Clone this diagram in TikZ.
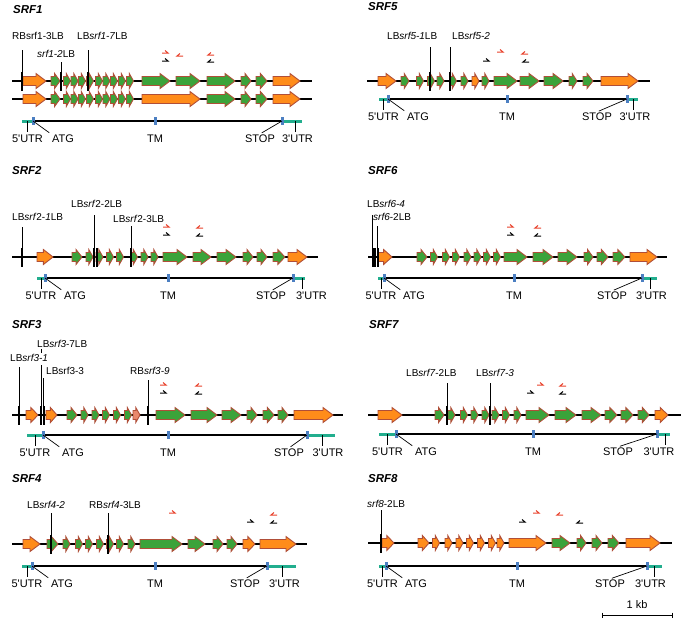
\documentclass[tikz,border=0pt]{standalone}
\usepackage{fontspec}
\setmainfont{Liberation Sans}
\usepackage{tikz}
\tikzset{x=1pt,y=-1pt}
\definecolor{eo}{HTML}{FF8C1A}
\definecolor{eg}{HTML}{3BA33A}
\definecolor{es}{HTML}{E9886C}
\definecolor{exedge}{HTML}{B04E38}
\definecolor{utrc}{HTML}{22AE8E}
\definecolor{mk}{HTML}{4C7FC2}
\definecolor{prr}{HTML}{E8402A}
\tikzset{
  exon/.style={draw=exedge, line width=0.9pt},
  gline/.style={line width=1.8pt},
  tthin/.style={line width=1pt},
  tthick/.style={line width=2pt},
  utr/.style={draw=utrc, line width=3pt},
  cds/.style={line width=2pt},
  tick/.style={line width=0.7pt, shorten >=2pt},
  primer/.style={line width=1pt},
  lbl/.style={font=\fontsize{11}{13}\selectfont, inner sep=1pt},
  tag/.style={font=\fontsize{10}{12}\selectfont, inner sep=0pt, anchor=base west},
  gname/.style={font=\fontsize{11.5}{14}\selectfont\bfseries\itshape, inner sep=0pt, anchor=base west},
}
% one exon: from, to, y, colour
\newcommand{\exon}[4]{%
  \pgfmathsetmacro\headlen{min(10,0.6*((#2)-(#1)))}
  \draw[exon,fill=#4] (#1,#3-4.5) -- (#2-\headlen,#3-4.5) -- (#2-\headlen,#3-7.5) -- (#2,#3)
    -- (#2-\headlen,#3+7.5) -- (#2-\headlen,#3+4.5) -- (#1,#3+4.5) -- cycle;}
% gene line: y, left, right, exons
\newcommand{\gene}[4]{%
  \draw[gline] (#2,#1) -- (#3,#1);
  \foreach \xa/\xb/\col in {#4} {\exon{\xa}{\xb}{#1}{\col}}}
% small LRR exons: y, colour, centres
\newcommand{\lrr}[3]{\foreach \xc in {#3} {\exon{\xc-3.5}{\xc+3.5}{#1}{#2}}}
% T-DNA insertion: x, top, gene y
\newcommand{\tdna}[3]{%
  \draw[tthin] (#1,#2) -- (#1,#3-9);
  \draw[tthick] (#1,#3-9) -- (#1,#3+10);}
\newcommand{\primF}[3]{\draw[primer,#3] (#1,#2) -- ++(6,0) -- ++(-3,-2.5);}
\newcommand{\primR}[3]{\draw[primer,#3] (#1+6,#2) -- ++(-6,0) -- ++(3,-2.5);}
% y, utr left, ATG, TM, STOP, utr right, 3'UTR label, 3'UTR tick, STOP label
\newcommand{\genemodel}[9]{%
  \draw[utr] (#2,#1) -- (#3,#1) (#5,#1) -- (#6,#1);
  \draw[cds] (#3,#1) -- (#5,#1);
  \foreach \m in {#3,#4,#5} {\fill[mk] (\m-1.5,#1-3.8) rectangle (\m+1.5,#1+3.8);}
  \node[lbl] (u5) at ({(#2+#3)/2},#1+18) {5\textquotesingle UTR};
  \node[lbl] (atg) at (#3+30,#1+18) {ATG};
  \node[lbl] (tm) at (#4,#1+18) {TM};
  \node[lbl] (stop) at (#9,#1+18) {STOP};
  \node[lbl] (u3) at (#7,#1+18) {3\textquotesingle UTR};
  \draw[tick] ({(#2+#3)/2},#1) -- (u5.north);
  \draw[tick] (#3,#1) -- (atg.north west);
  \draw[tick] (#5,#1) -- (stop.north);
  \draw[tick] (#8,#1) -- (u3.north -| #8,0);}

\begin{document}
\begin{tikzpicture}
\useasboundingbox (0,0) rectangle (685,619);

% SRF1
\node[gname] (t1) at (13,13) {SRF1};
\node[tag] (a1) at (12,39) {RBsrf1-3LB};
\node[tag] (b1) at (37,57) {\textit{srf1-2}LB};
\node[tag] (c1) at (77,39) {LB\textit{srf1-7}LB};
\gene{81}{12}{312}{23/46/eo,51/60/eg,142/170/eg,176/200/eg,207/235/eg,241/251/eg,256/267/eg,273/300/eo}
\lrr{81}{eg}{67,74.5,82,90,99,106.5,114,122,130}
\gene{99}{12}{312}{23/46/eo,51/60/eg,142/200/eo,207/235/eg,241/251/eg,256/267/eg,273/300/eo}
\lrr{99}{eg}{67,74.5,82,90,99,106.5,114,122,130}
\foreach \x/\t in {22/50,61/62,88/50} {\tdna{\x}{\t}{81}}
\primF{162}{53}{prr} \primF{162}{61}{black} \primR{177}{56}{prr}
\primR{208}{55}{prr} \primR{208}{62}{black}
\genemodel{121}{22}{33}{155}{282}{302}{297.5}{295}{260}

% SRF5
\node[gname] (t5) at (368,10) {SRF5};
\node[tag] (a5) at (387,39) {LB\textit{srf5-1}LB};
\node[tag] (b5) at (452,39) {LB\textit{srf5-2}};
\gene{81}{367}{650}{378/396/eo,401/409/eg,494/517/eg,520/539/eg,544/563/eg,569/577/eg,583/593/eg,601/638/eo}
\lrr{81}{eg}{420,431,440.5,453,464.5,485.5}
\lrr{81}{eo}{475.5}
\foreach \x/\t in {430/47,450/47} {\tdna{\x}{\t}{81}}
\primF{483}{61}{black} \primF{497}{52}{prr} \primR{522}{54}{prr} \primR{523}{62}{black}
\genemodel{99}{379}{388}{507}{627}{638}{635}{633}{597}

% SRF2
\node[gname] (t2) at (12,174) {SRF2};
\node[tag] (a2) at (12,220) {LB\textit{srf}2-\textit{1}LB};
\node[tag] (b2) at (71,207) {LB\textit{srf}2-2LB};
\node[tag] (c2) at (113,222) {LB\textit{srf}2-3LB};
\gene{257}{12}{318}{37/53/eo,72/82/eg,163/187/eg,193/211/eg,217/236/eg,243/253/eg,257/267/eg,273/285/eg,288/307/eo}
\lrr{257}{eg}{89.5,99.5,110,120,134,144.5,154.5}
\foreach \x/\t in {22/227,94/215,97/248,131/226} {\tdna{\x}{\t}{257}}
\primF{163}{227}{prr} \primF{163}{235}{black} \primR{197}{228}{prr} \primR{197}{236}{black}
\genemodel{278}{37}{45}{168}{293}{305}{311.5}{302}{271}

% SRF6
\node[gname] (t6) at (368,174) {SRF6};
\node[tag] (a6) at (367,207) {LB\textit{srf6-4}};
\node[tag] (b6) at (373,220) {\textit{srf6}-2LB};
\gene{257}{368}{667}{378/392/eo,417/427/eg,504/527/eg,533/553/eg,558/577/eg,584/593/eg,597/608/eg,613/625/eg,630/657/eo}
\lrr{257}{eg}{434,446,456,467.5,477.5,487,497}
\foreach \x/\t in {372.5/215,375/248,377.5/226} {\tdna{\x}{\t}{257}}
\primF{507}{227}{prr} \primF{507}{235}{black} \primR{535}{228}{prr} \primR{535}{236}{black}
\genemodel{278}{378}{384}{514}{642}{657}{651.5}{650}{612}

% SRF3
\node[gname] (t3) at (12,328) {SRF3};
\node[tag] (a3) at (37,347) {LB\textit{srf3}-7LB};
\node[tag] (b3) at (10,361) {LB\textit{srf3-1}};
\node[tag] (c3) at (46,374) {LBsrf3-3};
\node[tag] (d3) at (130,374) {RB\textit{srf3-9}};
\gene{415}{12}{343}{26/38/eo,46/57/eo,67/77/eg,156/185/eg,191/217/eg,222/241/eg,247/257/eg,263/274/eg,278/288/eg,294/333/eo}
\lrr{415}{eg}{84.5,95.5,106,117,128}
\lrr{415}{es}{136.5}
\draw[tthin] (41,349) -- (41,353);
\foreach \x/\t in {19/367,41/365,43.5/378,148/380} {\tdna{\x}{\t}{415}}
\primF{160}{385}{prr} \primF{160}{393}{black} \primR{196}{386}{prr} \primR{196}{394}{black}
\genemodel{435}{27}{43}{168}{307}{335}{328}{322}{289}

% SRF7
\node[gname] (t7) at (369,328) {SRF7};
\node[tag] (a7) at (406,376) {LB\textit{srf7}-2LB};
\node[tag] (b7) at (476,376) {LB\textit{srf7-3}};
\gene{415}{368}{681}{378/402/eo,435/444/eg,526/549/eg,555/576/eg,582/601/eg,605/617/eg,621/633/eg,638/649/eg,655/668/eo}
\lrr{415}{eg}{451.5,464,474.5,485.5,495.5,506,517.5}
\foreach \x in {447,490} {\tdna{\x}{383}{415}}
\primF{527}{393}{black} \primF{537}{385}{prr} \primR{560}{386}{prr} \primR{560}{394}{black}
\genemodel{434}{379}{396}{533}{657}{670}{659}{665}{618}

% SRF4
\node[gname] (t4) at (12,482) {SRF4};
\node[tag] (a4) at (27,508) {LB\textit{srf4-2}};
\node[tag] (b4) at (89,508) {RB\textit{srf4}-3LB};
\gene{544}{12}{307}{23/40/eo,47/58/eg,140/182/eg,188/205/eg,213/223/eg,227/237/eg,243/255/eo,260/296/eo}
\lrr{544}{eg}{66.5,79,89,100,110,120,131.5}
\foreach \x in {51,108} {\tdna{\x}{513}{544}}
\primF{169}{513}{prr} \primF{247}{522}{black} \primR{271}{515}{prr} \primR{271}{523}{black}
\genemodel{566}{22}{32}{155}{267}{296}{284.5}{282}{245}

% SRF8
\node[gname] (t8) at (368,482) {SRF8};
\node[tag] (a8) at (367,507) {\textit{srf8}-2LB};
\gene{543}{368}{672}{382/394/eo,418/429/eo,509/546/eo,552/570/eg,577/586/eg,592/602/eg,608/619/eg,626/660/eo}
\lrr{543}{eo}{436,448.5,459.5,470,481,492,500.5}
\tdna{381}{510}{543}
\primF{519}{522}{black} \primF{533}{513}{prr} \primR{557}{515}{prr} \primR{577}{523}{black}
\genemodel{566}{379}{386}{517}{647}{662}{650.5}{654}{610}

% scale bar
\node[lbl] (kb) at (637,605) {1 kb};
\coordinate (s0) at (602,615);
\coordinate (s1) at (672,615);
\draw[line width=1pt] (s0) -- (s1);
\draw[line width=0.8pt] (s0) ++(0,-2.5) -- ++(0,5) (s1) ++(0,-2.5) -- ++(0,5);
\end{tikzpicture}
\end{document}
